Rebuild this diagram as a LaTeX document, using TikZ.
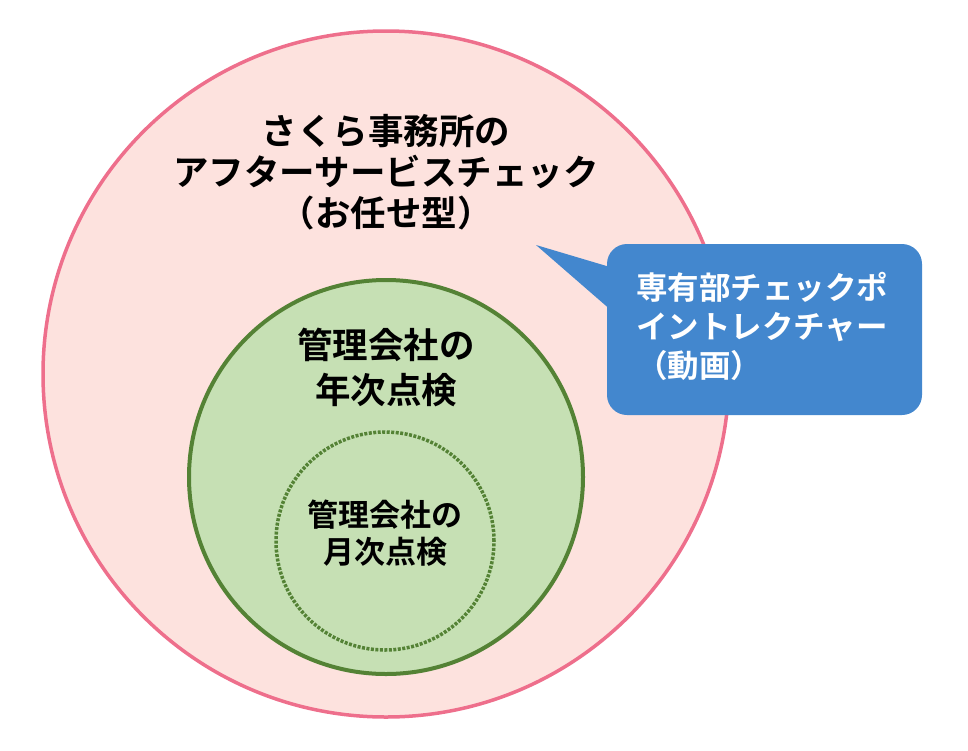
\documentclass[tikz,border=0pt]{standalone}
\usepackage{fontspec}
\usepackage{tikz}
\newfontfamily\jpfont{Noto Sans CJK JP}[BoldFont={Noto Sans CJK JP Bold}]

\definecolor{sakurafill}{HTML}{FDE2DE}
\definecolor{sakuraline}{HTML}{EE6F8C}
\definecolor{kanrifill}{HTML}{C6E0B4}
\definecolor{kanriline}{HTML}{548235}
\definecolor{bubblefill}{HTML}{4387CE}

\tikzset{
  ring/.style={circle, inner sep=0pt, line width=3.5pt},
  label/.style={font=\jpfont\bfseries, align=center, inner sep=0pt}
}

\begin{document}
\begin{tikzpicture}[x=1pt,y=-1pt]
\useasboundingbox (0,0) rectangle (968,750);

% circles
\node [ring, draw=sakuraline, fill=sakurafill, minimum size=686pt] (outer) at (386,374) {};
\node [ring, draw=kanriline, fill=kanrifill, line width=4pt, minimum size=394pt] (yearly) at (386,477) {};
\node [ring, draw=kanriline, line width=3.5pt, dash pattern=on 3pt off 1.5pt, minimum size=218pt] (monthly) at (385,541) {};

% texts
\node [label, font=\jpfont\bfseries\fontsize{35.5}{41}\selectfont] (title) at (386,172)
  {さくら事務所の\\アフターサービスチェック\\（お任せ型）};
\node [label, font=\jpfont\bfseries\fontsize{35.5}{45}\selectfont] (yeartext) at (386,367)
  {管理会社の\\年次点検};
\node [label, font=\jpfont\bfseries\fontsize{31}{37}\selectfont] (monthtext) at (385,533)
  {管理会社の\\月次点検};

% callout
\coordinate (tip) at (536,245);
\fill [bubblefill, rounded corners=20pt] (607,244) rectangle (922,415);
\fill [bubblefill] (tip) -- (620,270) -- (620,318) -- cycle;
\node [label, align=left, anchor=north west, text=white,
  font=\jpfont\bfseries\fontsize{31.5}{39}\selectfont] (lecture) at (636,272)
  {専有部チェックポ\\イントレクチャー\\（動画）};

\end{tikzpicture}
\end{document}
